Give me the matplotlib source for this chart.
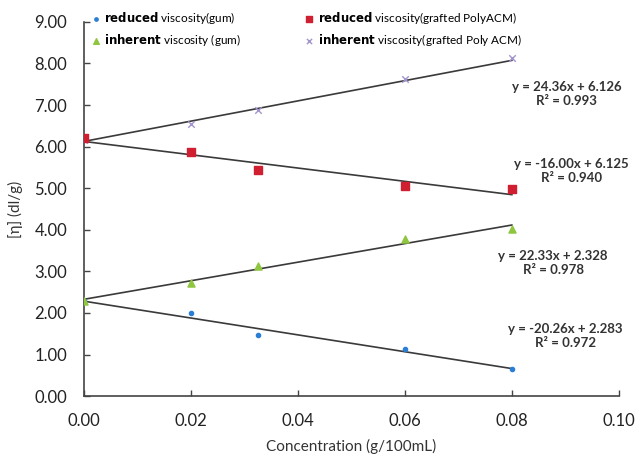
import matplotlib.pyplot as plt
from matplotlib.ticker import FormatStrFormatter

plt.rcParams['font.family'] = ['Lato', 'DejaVu Sans']

# concentrations (g/100mL)
conc = [0.0, 0.02, 0.0325, 0.06, 0.08]

# viscosity values
red_gum = [2.28, 2.00, 1.47, 1.13, 0.65]
red_graft = [6.20, 5.88, 5.45, 5.05, 4.98]
inh_gum = [2.28, 2.72, 3.13, 3.79, 4.02]
inh_graft = [6.15, 6.55, 6.88, 7.63, 8.12]

# linear fits as printed on the chart
fits = [(24.36, 6.126, 0.993), (-16.00, 6.125, 0.940),
        (22.33, 2.328, 0.978), (-20.26, 2.283, 0.972)]
fit_labels_pos = [(0.0902, 7.26), (0.0911, 5.41), (0.0877, 3.20), (0.0900, 1.45)]

fig = plt.figure(figsize=(6.36, 4.66), dpi=100)
ax = fig.add_axes([0.132, 0.150, 0.841, 0.803])

line_col = '#3a3a3a'
x_fit = [0.0, 0.08]
for slope, icpt, r2 in fits:
    ax.plot(x_fit, [icpt + slope * x for x in x_fit], color=line_col, lw=1.2, zorder=1)

ax.scatter(conc, red_gum, marker='o', s=9, color='#2a7ed6', zorder=3,
           label=r'$\bf{reduced}$ viscosity(gum)')
ax.scatter(conc, inh_gum, marker='^', s=26, color='#8fc640', zorder=3,
           label=r'$\bf{inherent}$ viscosity (gum)')
ax.scatter(conc, red_graft, marker='s', s=30, color='#d01f30', zorder=3,
           label=r'$\bf{reduced}$ viscosity(grafted PolyACM)')
ax.scatter(conc, inh_graft, marker='x', s=22, color='#a394cf', linewidths=1.0, zorder=2,
           label=r'$\bf{inherent}$ viscosity(grafted Poly ACM)')

for (slope, icpt, r2), (tx, ty) in zip(fits, fit_labels_pos):
    sign = '+' if icpt >= 0 else '-'
    txt = 'y = %.2fx %s %.3f\nR² = %.3f' % (slope, sign, abs(icpt), r2)
    ax.text(tx, ty, txt, ha='center', va='center', fontsize=9.5,
            fontweight='bold', color='#333333', linespacing=1.25)

ax.set_xlim(0, 0.10)
ax.set_ylim(0, 9)
ax.set_xticks([0, 0.02, 0.04, 0.06, 0.08, 0.10])
ax.set_yticks(range(0, 10))
ax.xaxis.set_major_formatter(FormatStrFormatter('%.2f'))
ax.yaxis.set_major_formatter(FormatStrFormatter('%.2f'))
ax.tick_params(direction='in', length=4, width=1, color='#444444',
               labelsize=12, pad=12, labelcolor='#222222')
for s in ['top', 'right']:
    ax.spines[s].set_visible(False)
for s in ['left', 'bottom']:
    ax.spines[s].set_color('#444444')
    ax.spines[s].set_linewidth(1.2)

ax.set_xlabel('Concentration (g/100mL)', fontsize=11, color='#333333', labelpad=7)
ax.set_ylabel('[η] (dl/g)', fontsize=11, color='#333333', labelpad=8)

ax.legend(loc='upper left', bbox_to_anchor=(0.0, 1.045), ncol=2, frameon=False,
          fontsize=8.5, handletextpad=0.1, columnspacing=5.2, markerscale=0.8,
          borderaxespad=0, labelspacing=0.55, handlelength=1.2)

fig.savefig('out.png', dpi=100)
